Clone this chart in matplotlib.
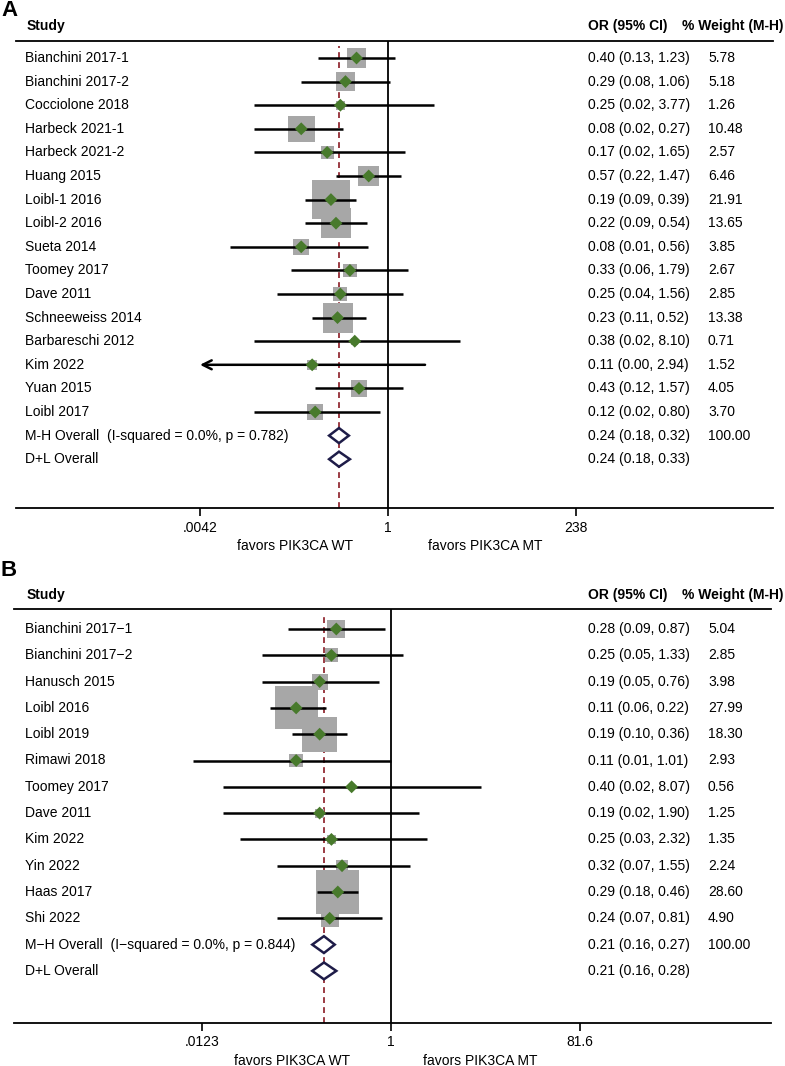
import numpy as np
import matplotlib
matplotlib.use("Agg")
import matplotlib.pyplot as plt
from matplotlib.transforms import blended_transform_factory

plt.rcParams['font.family'] = ['Liberation Sans', 'DejaVu Sans']

# ---------------- Data: panel A ----------------
studies_a = ["Bianchini 2017-1", "Bianchini 2017-2", "Cocciolone 2018", "Harbeck 2021-1",
             "Harbeck 2021-2", "Huang 2015", "Loibl-1 2016", "Loibl-2 2016", "Sueta 2014",
             "Toomey 2017", "Dave 2011", "Schneeweiss 2014", "Barbareschi 2012", "Kim 2022",
             "Yuan 2015", "Loibl 2017"]
or_a = [0.40, 0.29, 0.25, 0.08, 0.17, 0.57, 0.19, 0.22, 0.08, 0.33, 0.25, 0.23, 0.38, 0.11, 0.43, 0.12]
lo_a = [0.13, 0.08, 0.02, 0.02, 0.02, 0.22, 0.09, 0.09, 0.01, 0.06, 0.04, 0.11, 0.02, 0.00, 0.12, 0.02]
hi_a = [1.23, 1.06, 3.77, 0.27, 1.65, 1.47, 0.39, 0.54, 0.56, 1.79, 1.56, 0.52, 8.10, 2.94, 1.57, 0.80]
wt_a = [5.78, 5.18, 1.26, 10.48, 2.57, 6.46, 21.91, 13.65, 3.85, 2.67, 2.85, 13.38, 0.71, 1.52, 4.05, 3.70]
overall_labels_a = ["M-H Overall  (I-squared = 0.0%, p = 0.782)", "D+L Overall"]
overall_or_a = [0.24, 0.24]
overall_lo_a = [0.18, 0.18]
overall_hi_a = [0.32, 0.33]
overall_wt_a = ["100.00", ""]
ticks_a = [0.0042, 1, 238]
ticklabels_a = [".0042", "1", "238"]

# ---------------- Data: panel B ----------------
M = "\u2212"
studies_b = ["Bianchini 2017" + M + "1", "Bianchini 2017" + M + "2", "Hanusch 2015", "Loibl 2016",
             "Loibl 2019", "Rimawi 2018", "Toomey 2017", "Dave 2011", "Kim 2022", "Yin 2022",
             "Haas 2017", "Shi 2022"]
or_b = [0.28, 0.25, 0.19, 0.11, 0.19, 0.11, 0.40, 0.19, 0.25, 0.32, 0.29, 0.24]
lo_b = [0.09, 0.05, 0.05, 0.06, 0.10, 0.01, 0.02, 0.02, 0.03, 0.07, 0.18, 0.07]
hi_b = [0.87, 1.33, 0.76, 0.22, 0.36, 1.01, 8.07, 1.90, 2.32, 1.55, 0.46, 0.81]
wt_b = [5.04, 2.85, 3.98, 27.99, 18.30, 2.93, 0.56, 1.25, 1.35, 2.24, 28.60, 4.90]
overall_labels_b = ["M" + M + "H Overall  (I" + M + "squared = 0.0%, p = 0.844)", "D+L Overall"]
overall_or_b = [0.21, 0.21]
overall_lo_b = [0.16, 0.16]
overall_hi_b = [0.27, 0.28]
overall_wt_b = ["100.00", ""]
ticks_b = [0.0123, 1, 81.6]
ticklabels_b = [".0123", "1", "81.6"]

W, H = 785, 1066
fig = plt.figure(figsize=(W / 100, H / 100), dpi=100)

GREEN = "#487a2c"
GRAY = "#a7a7a7"
NAVY = "#1e1c48"
DRED = "#8a1a24"
FS = 10
X_STUDY, X_OR, X_WT, X_WTH_RIGHT = 25, 588, 708, 783


def panel(letter, studies, ors, los, his, wts, ov_labels, ov_or, ov_lo, ov_hi, ov_wt,
          ticks, ticklabels, px_left, px_right, px_top, px_bottom, px_row0, row_step,
          px_one, px_tick, header_y, letter_y, favors_y, favors_x, box_k):
    n = len(studies)
    ax = fig.add_axes([px_left / W, 1 - px_bottom / H, (px_right - px_left) / W, (px_bottom - px_top) / H])
    ax.set_xscale('log')
    k = (px_one - px_tick) / (-np.log(ticks[0]))  # px per ln unit
    ax.set_xlim(np.exp((px_left - px_one) / k), np.exp((px_right - px_one) / k))
    ax.set_ylim((px_bottom - px_row0) / row_step, (px_top - px_row0) / row_step)
    for s in ['left', 'right']:
        ax.spines[s].set_visible(False)
    for s in ['top', 'bottom']:
        ax.spines[s].set_linewidth(1.3)
    ax.set_yticks([])
    ax.set_xticks(ticks)
    ax.set_xticklabels(ticklabels, fontsize=FS)
    ax.minorticks_off()
    ax.tick_params(axis='x', direction='out', length=5.5, width=1.2, pad=3.5)

    xmin = ticks[0]
    rows = np.arange(n)
    # reference lines
    ax.axvline(1, color='black', lw=1.3, zorder=1)
    ax.axvline(ov_or[0], ymin=0, ymax=0.99, color=DRED, lw=1.2, ls=(0, (3.5, 2.5)), zorder=1)
    # boxes
    ax.scatter(ors, rows, s=(box_k * 0.72) ** 2 * np.array(wts), marker='s', color=GRAY,
               edgecolors='none', zorder=2)
    # CI lines (a lower bound displayed as 0.00 is clipped at the axis minimum with an arrow)
    for i in range(n):
        if los[i] <= 0:
            ax.annotate("", xy=(xmin, i), xytext=(his[i], i),
                        arrowprops=dict(arrowstyle='->', lw=1.8, color='black',
                                        mutation_scale=16, shrinkA=0, shrinkB=0), zorder=3)
        else:
            ax.plot([los[i], his[i]], [i, i], color='black', lw=1.8, solid_capstyle='butt', zorder=3)
    ax.scatter(ors, rows, s=43, marker='D', color=GREEN, edgecolors='none', zorder=4)
    # overall diamonds
    for j in range(2):
        y = n + j
        xs = [ov_lo[j], ov_or[j], ov_hi[j], ov_or[j], ov_lo[j]]
        ys = [y, y - 0.32, y, y + 0.32, y]
        ax.fill(xs, ys, facecolor='white', edgecolor=NAVY, lw=1.8, zorder=5, joinstyle='miter')

    # text columns
    tr = blended_transform_factory(fig.transFigure, ax.transData)
    for i in range(n):
        ax.text(X_STUDY / W, i, studies[i], transform=tr, ha='left', va='center', fontsize=FS)
        ax.text(X_OR / W, i, f"{ors[i]:.2f} ({los[i]:.2f}, {his[i]:.2f})", transform=tr,
                ha='left', va='center', fontsize=FS)
        ax.text(X_WT / W, i, f"{wts[i]:.2f}", transform=tr, ha='left', va='center', fontsize=FS)
    for j in range(2):
        y = n + j
        ax.text(X_STUDY / W, y, ov_labels[j], transform=tr, ha='left', va='center', fontsize=FS)
        ax.text(X_OR / W, y, f"{ov_or[j]:.2f} ({ov_lo[j]:.2f}, {ov_hi[j]:.2f})", transform=tr,
                ha='left', va='center', fontsize=FS)
        ax.text(X_WT / W, y, ov_wt[j], transform=tr, ha='left', va='center', fontsize=FS)

    # headers
    fig.text(27 / W, 1 - header_y / H, "Study", fontsize=FS, fontweight='bold', va='center', ha='left')
    fig.text(X_OR / W, 1 - header_y / H, "OR (95% CI)", fontsize=FS, fontweight='bold', va='center', ha='left')
    fig.text(X_WTH_RIGHT / W, 1 - header_y / H, "% Weight (M-H)", fontsize=FS, fontweight='bold',
             va='center', ha='right')
    fig.text(1 / W, 1 - letter_y / H, letter, fontsize=16, fontweight='bold', va='center', ha='left')
    fig.text(favors_x[0] / W, 1 - favors_y / H, "favors PIK3CA WT", fontsize=FS, ha='center', va='center')
    fig.text(favors_x[1] / W, 1 - favors_y / H, "favors PIK3CA MT", fontsize=FS, ha='center', va='center')
    return ax


panel("A", studies_a, or_a, lo_a, hi_a, wt_a, overall_labels_a, overall_or_a, overall_lo_a,
      overall_hi_a, overall_wt_a, ticks_a, ticklabels_a,
      px_left=16, px_right=773, px_top=41, px_bottom=508, px_row0=58, row_step=23.6,
      px_one=388, px_tick=200, header_y=26, letter_y=11, favors_y=546,
      favors_x=(295, 485), box_k=8.2)

panel("B", studies_b, or_b, lo_b, hi_b, wt_b, overall_labels_b, overall_or_b, overall_lo_b,
      overall_hi_b, overall_wt_b, ticks_b, ticklabels_b,
      px_left=14, px_right=771, px_top=609, px_bottom=1023, px_row0=629, row_step=26.3,
      px_one=391, px_tick=202, header_y=595, letter_y=571, favors_y=1061,
      favors_x=(292, 480), box_k=8.1)

fig.savefig("out.png", dpi=100)
